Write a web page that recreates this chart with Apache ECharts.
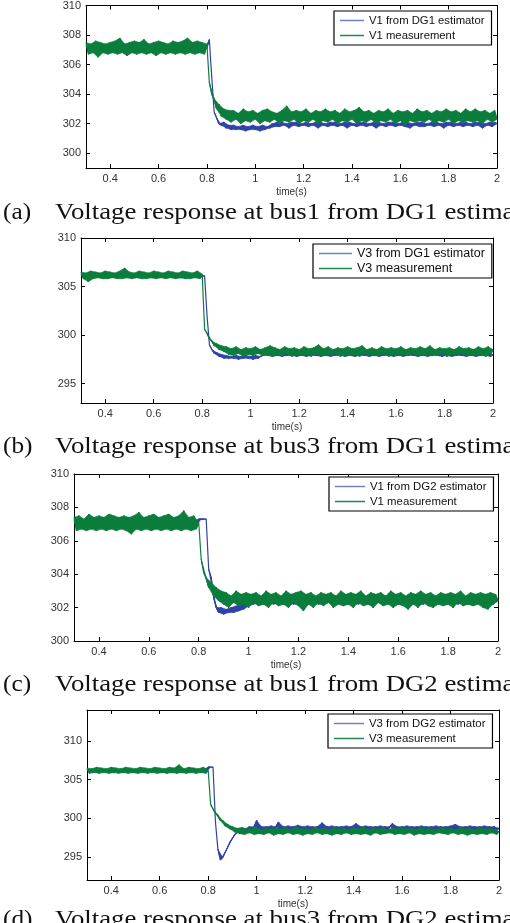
<!DOCTYPE html>
<html>
<head>
<meta charset="utf-8">
<script src="https://cdn.jsdelivr.net/npm/echarts@6/dist/echarts.min.js"></script>
<style>
html,body{margin:0;padding:0;background:#fff;}
#c{width:510px;height:923px;}
</style>
</head>
<body>
<div id="c"></div>
<script>
// time samples (s)
const T = [0.30,0.31,0.32,0.33,0.34,0.35,0.36,0.37,0.38,0.39,
0.40,0.41,0.42,0.43,0.44,0.45,0.46,0.47,0.48,0.49,
0.50,0.51,0.52,0.53,0.54,0.55,0.56,0.57,0.58,0.59,
0.60,0.61,0.62,0.63,0.64,0.65,0.66,0.67,0.68,0.69,
0.70,0.71,0.72,0.73,0.74,0.75,0.76,0.77,0.78,0.79,
0.80,0.81,0.82,0.83,0.84,0.85,0.86,0.87,0.88,0.89,
0.90,0.91,0.92,0.93,0.94,0.95,0.96,0.97,0.98,0.99,
1.00,1.01,1.02,1.03,1.04,1.05,1.06,1.07,1.08,1.09,
1.10,1.11,1.12,1.13,1.14,1.15,1.16,1.17,1.18,1.19,
1.20,1.21,1.22,1.23,1.24,1.25,1.26,1.27,1.28,1.29,
1.30,1.31,1.32,1.33,1.34,1.35,1.36,1.37,1.38,1.39,
1.40,1.41,1.42,1.43,1.44,1.45,1.46,1.47,1.48,1.49,
1.50,1.51,1.52,1.53,1.54,1.55,1.56,1.57,1.58,1.59,
1.60,1.61,1.62,1.63,1.64,1.65,1.66,1.67,1.68,1.69,
1.70,1.71,1.72,1.73,1.74,1.75,1.76,1.77,1.78,1.79,
1.80,1.81,1.82,1.83,1.84,1.85,1.86,1.87,1.88,1.89,
1.90,1.91,1.92,1.93,1.94,1.95,1.96,1.97,1.98,1.99,
2.00];

// (a) V1 from DG1 estimator / V1 measurement
const aEst = [307.3,306.9,307.2,307.0,307.3,306.9,307.2,306.9,307.3,307.0,
307.2,306.9,307.3,307.0,307.2,306.9,307.3,307.0,307.2,306.9,
307.3,307.0,307.2,306.9,307.3,307.0,307.2,306.9,307.3,307.0,
307.2,306.9,307.3,307.0,307.2,306.9,307.3,307.0,307.2,306.9,
307.3,307.0,307.2,306.9,307.3,307.0,307.2,306.9,307.3,307.0,
307.1,307.7,305.2,302.8,302.4,302.0,301.9,302.1,301.7,301.9,
301.6,301.9,301.6,301.8,301.6,301.9,301.5,301.8,301.6,301.9,
301.6,301.8,301.5,301.9,301.6,301.8,301.7,302.0,301.8,302.1,
301.8,302.1,301.9,302.0,301.7,302.1,301.9,302.1,301.8,302.0,
301.9,302.1,301.8,302.0,301.9,302.1,301.7,302.1,301.9,302.0,
301.8,302.1,301.9,302.1,301.8,302.0,301.9,302.1,301.7,302.1,
301.9,302.0,301.8,302.1,301.9,302.1,301.8,302.0,301.9,302.1,
301.7,302.1,301.9,302.0,301.8,302.1,301.9,302.1,301.8,302.0,
301.9,302.1,301.8,302.1,301.7,302.0,301.9,302.1,301.8,302.1,
301.8,302.0,301.9,302.1,301.8,302.1,301.9,302.0,301.7,302.1,
301.9,302.1,301.8,302.0,301.9,302.1,301.8,302.1,301.9,302.0,
301.8,302.1,301.9,302.1,301.7,302.0,301.9,302.1,301.8,302.1,
302.0];
const aMeas = [307.5,306.7,307.4,306.8,307.6,306.5,307.5,306.8,307.4,306.7,
307.5,306.8,307.6,306.7,307.8,306.8,307.4,306.6,307.5,306.8,
307.6,306.7,307.5,306.8,307.7,306.7,307.4,306.8,307.5,306.6,
307.6,306.8,307.5,306.7,307.4,306.8,307.6,306.7,307.5,306.8,
307.6,306.7,307.8,306.8,307.5,306.7,307.6,306.8,307.5,306.7,
307.4,304.8,304.0,303.7,303.0,303.3,302.5,303.0,302.3,302.9,
302.1,302.9,302.3,302.7,302.0,303.0,302.2,302.8,302.1,302.9,
302.3,302.7,302.0,302.9,302.2,303.0,302.1,302.8,302.3,302.7,
302.0,302.9,302.2,303.2,302.1,302.8,302.3,302.9,302.0,302.8,
302.2,303.0,302.1,302.7,302.3,302.9,302.0,302.8,302.2,303.0,
302.1,302.8,302.3,302.9,302.0,302.7,302.2,303.0,302.1,302.8,
302.3,302.9,302.0,303.1,302.2,302.8,302.1,302.9,302.3,302.7,
302.0,302.9,302.2,302.8,302.1,303.0,302.3,302.7,302.0,302.9,
302.2,302.8,301.9,302.9,302.2,302.7,302.1,303.0,302.2,302.8,
302.1,302.9,302.3,302.7,302.0,302.9,302.2,302.8,302.1,303.0,
302.3,302.8,302.0,302.9,302.2,302.7,302.1,303.0,302.2,302.8,
302.1,303.0,302.2,302.8,302.0,302.9,302.3,302.7,302.1,302.9,
302.3];

// (b) V3 from DG1 estimator / V3 measurement
const bEst = [306.3,305.9,306.2,306.0,306.3,305.9,306.2,306.0,306.3,305.9,
306.3,305.9,306.2,306.0,306.3,305.9,306.2,306.0,306.3,305.9,
306.3,305.9,306.2,306.0,306.3,305.9,306.2,306.0,306.3,305.9,
306.3,305.9,306.2,306.0,306.3,305.9,306.2,306.0,306.3,305.9,
306.3,305.9,306.2,306.0,306.3,305.9,306.2,306.0,306.3,305.9,
306.1,306.1,302.0,299.0,298.5,298.1,298.2,297.8,298.0,297.6,
297.9,297.6,297.8,297.6,297.9,297.5,297.8,297.6,297.9,297.6,
297.8,297.5,297.9,297.6,297.8,297.9,298.1,297.9,298.1,297.8,
298.1,297.9,298.1,297.8,298.1,297.9,298.1,297.9,298.1,297.8,
298.1,297.9,298.1,297.8,298.1,297.9,298.1,297.9,298.1,297.8,
298.1,297.9,298.1,297.8,298.1,297.9,298.1,297.9,298.1,297.8,
298.1,297.9,298.1,297.8,298.1,297.9,298.1,297.9,298.1,297.8,
298.1,297.9,298.1,297.8,298.1,297.9,298.1,297.9,298.1,297.8,
298.1,297.9,298.1,297.8,298.1,297.9,298.1,297.9,298.1,297.8,
298.1,297.9,298.1,297.8,298.1,297.9,298.1,297.9,298.1,297.8,
298.1,297.9,298.1,297.8,298.1,297.9,298.1,297.9,298.1,297.8,
298.1,297.9,298.1,297.8,298.1,297.9,298.1,297.9,298.1,297.8,
298.0];
const bMeas = [306.5,305.8,306.4,305.5,306.6,305.8,306.5,305.9,306.4,305.8,
306.6,305.8,306.5,305.9,306.4,305.8,306.6,305.8,306.9,305.9,
306.5,305.8,306.4,305.9,306.6,305.8,306.5,305.8,306.4,305.9,
306.6,305.8,306.5,305.9,306.4,305.8,306.6,305.9,306.5,305.8,
306.4,305.9,306.6,305.8,306.5,305.8,306.4,305.9,306.6,305.8,
306.3,300.6,300.2,299.6,299.4,298.9,299.1,298.5,298.9,298.3,
298.8,298.0,298.6,297.9,298.8,298.1,298.5,297.8,298.7,298.0,
298.6,297.9,298.8,298.1,298.5,297.9,298.7,298.0,298.9,297.8,
298.7,298.0,298.5,297.9,298.8,298.1,298.6,297.8,298.7,298.0,
298.5,297.9,298.8,298.0,298.6,297.8,298.7,298.1,299.0,297.9,
298.6,298.0,298.8,297.9,298.5,298.1,298.7,297.8,298.6,298.0,
298.8,297.9,298.6,298.0,298.7,297.8,298.9,298.1,298.5,297.9,
298.7,298.0,298.5,297.9,298.8,298.1,298.6,297.8,298.7,298.0,
298.6,297.9,298.8,298.0,298.5,297.9,298.7,298.1,298.6,297.8,
298.8,298.0,298.6,297.9,298.9,298.0,298.5,297.9,298.7,298.1,
298.6,297.8,298.7,298.0,298.5,297.9,298.8,298.1,298.6,297.9,
298.7,298.0,298.5,297.9,298.8,298.0,298.6,297.8,298.8,298.0,
298.5];

// (c) V1 from DG2 estimator / V1 measurement
const cEst = [307.2,306.9,307.3,306.9,307.2,307.0,307.3,306.9,307.2,306.9,
307.2,306.9,307.3,306.9,307.2,307.0,307.3,306.9,307.2,306.9,
307.2,306.9,307.3,306.9,307.2,307.0,307.3,306.9,307.2,306.9,
307.2,306.9,307.3,306.9,307.2,307.0,307.3,306.9,307.2,306.9,
307.2,306.9,307.3,306.9,307.2,307.0,307.3,306.9,307.2,306.9,
307.3,307.3,307.3,307.3,304.3,303.8,302.6,302.0,301.7,302.0,
301.6,301.9,301.7,302.0,301.7,302.1,301.8,302.2,301.9,302.3,
302.1,302.6,302.2,302.7,302.3,302.6,302.2,302.7,302.3,302.6,
302.2,302.7,302.3,302.6,302.2,302.7,302.3,302.6,302.2,302.7,
302.2,302.7,302.3,302.6,302.2,302.7,302.3,302.6,302.2,302.7,
302.2,302.7,302.3,302.6,302.2,302.7,302.3,302.6,302.2,302.7,
302.2,302.7,302.3,302.6,302.2,302.7,302.3,302.6,302.2,302.7,
302.2,302.7,302.3,302.6,302.2,302.7,302.3,302.6,302.2,302.7,
302.2,302.7,302.3,302.6,302.2,302.7,302.3,302.6,302.2,302.7,
302.2,302.7,302.3,302.6,302.2,302.7,302.3,302.6,302.2,302.7,
302.2,302.7,302.3,302.6,302.2,302.7,302.3,302.6,302.2,302.7,
302.2,302.7,302.3,302.6,302.2,302.7,302.3,302.6,302.2,302.7,
302.4];
const cMeas = [307.4,306.6,307.5,306.7,307.3,306.6,307.6,306.7,307.4,306.6,
307.5,306.7,307.4,306.6,307.6,306.7,307.5,306.6,307.4,306.7,
307.5,306.6,307.4,306.4,307.5,306.7,307.7,306.6,307.4,306.7,
307.5,306.6,307.6,306.7,307.4,306.6,307.5,306.7,307.6,306.6,
307.4,306.7,307.5,306.6,307.8,306.7,307.4,306.6,307.5,306.7,
307.1,304.9,304.1,303.8,303.2,303.5,302.7,303.2,302.4,303.0,
302.2,302.9,302.0,302.7,302.3,303.0,302.1,302.8,302.2,302.9,
302.0,302.8,302.3,302.9,302.1,302.7,302.2,303.0,302.0,302.8,
302.3,302.9,302.1,302.7,302.2,303.0,302.0,302.8,302.3,302.9,
302.1,303.0,301.8,302.8,302.2,302.9,302.0,302.7,302.3,302.9,
302.1,302.8,302.3,302.9,302.0,302.7,302.2,303.0,302.1,302.8,
302.2,302.9,302.0,302.8,302.3,303.0,302.1,302.7,302.2,302.9,
302.0,302.8,302.3,302.9,302.1,302.7,302.2,303.0,302.0,302.8,
302.2,302.9,302.1,302.7,301.9,302.9,302.2,302.8,302.0,303.0,
302.3,302.8,302.1,302.9,302.0,302.7,302.2,302.9,302.1,302.8,
302.2,302.9,302.0,302.8,302.3,303.0,302.1,302.7,302.2,302.9,
302.1,302.8,302.2,302.9,302.0,302.8,301.9,302.9,302.2,302.8,
302.4];

// (d) V3 from DG2 estimator / V3 measurement
const dEst = [306.3,305.9,306.2,306.0,306.3,305.9,306.2,306.0,306.3,305.9,
306.3,305.9,306.2,306.0,306.3,305.9,306.2,306.0,306.3,305.9,
306.3,305.9,306.2,306.0,306.3,305.9,306.2,306.0,306.3,305.9,
306.3,305.9,306.2,306.0,306.3,305.9,306.2,306.0,306.3,305.9,
306.3,305.9,306.2,306.0,306.3,305.9,306.2,306.0,306.3,305.9,
306.6,306.6,306.6,299.5,296.0,294.6,294.9,295.6,296.2,296.9,
297.4,297.9,298.2,298.4,298.3,298.6,298.4,298.9,298.4,298.9,
299.7,298.4,298.9,298.5,298.9,298.4,299.0,298.5,298.9,299.5,
298.4,298.9,298.5,299.0,298.4,298.9,298.5,299.1,298.4,298.9,
298.5,299.0,298.4,298.9,298.5,298.9,298.4,299.4,298.5,298.9,
298.4,299.0,298.5,298.9,298.4,298.9,298.5,299.0,298.4,298.9,
298.5,299.3,298.4,298.9,298.5,299.0,298.4,298.9,298.5,298.9,
298.4,299.0,298.5,298.9,298.4,298.9,299.3,298.5,298.9,298.4,
298.9,298.5,299.0,298.4,298.9,298.5,298.9,298.4,299.0,298.5,
298.9,298.4,298.9,298.5,299.0,298.4,298.9,298.5,298.9,298.4,
299.0,298.5,299.2,298.4,298.9,298.5,298.9,298.4,299.0,298.5,
298.9,298.4,298.9,298.5,299.0,298.4,298.9,298.5,298.9,298.4,
298.7];
const dMeas = [306.5,305.8,306.4,305.9,306.6,305.8,306.5,305.9,306.4,305.8,
306.6,305.9,306.5,305.8,306.4,305.9,306.6,305.8,306.5,305.9,
306.4,305.8,306.6,305.9,306.5,305.8,306.4,305.9,306.6,305.8,
306.5,305.9,306.4,305.8,306.6,305.9,306.5,305.8,306.9,305.9,
306.4,305.8,306.6,305.9,306.5,305.8,306.4,305.9,306.6,305.8,
306.2,301.8,301.2,300.6,300.4,299.7,299.7,299.0,299.2,298.6,
298.9,298.2,298.7,298.0,298.8,297.9,298.6,298.1,298.7,297.9,
298.8,298.0,298.5,297.9,298.7,298.1,298.6,297.8,298.8,298.0,
298.6,297.9,298.8,298.1,298.5,297.9,298.9,298.0,298.6,297.8,
298.7,298.0,298.5,297.9,298.8,298.1,298.6,297.9,298.7,298.0,
298.5,297.8,298.8,298.0,298.6,297.9,298.7,298.1,298.5,297.9,
298.8,298.0,298.6,297.9,298.9,298.0,298.5,297.8,298.7,298.1,
298.6,297.9,298.8,298.0,298.5,298.1,298.7,297.9,298.6,298.0,
298.8,297.9,298.6,298.1,298.7,297.8,298.5,298.0,298.8,297.9,
298.6,298.0,298.7,297.9,298.5,298.1,298.8,298.0,298.6,297.9,
298.7,298.1,298.5,297.9,298.8,298.0,298.6,297.8,298.7,298.0,
298.5,297.9,298.8,298.0,298.6,297.9,298.7,298.1,298.5,297.9,
298.3];

// tick labels
const xTicks = [0.4,0.6,0.8,1,1.2,1.4,1.6,1.8,2];
const yTicksA = [300,302,304,306,308,310];
const yTicksB = [295,300,305,310];
const yTicksC = [300,302,304,306,308,310];
const yTicksD = [295,300,305,310];

const estNames = ['V1 from DG1 estimator','V3 from DG1 estimator','V1 from DG2 estimator','V3 from DG2 estimator'];
const measNames = ['V1 measurement','V3 measurement','V1 measurement','V3 measurement'];
const captions = ['(a)','(b)','(c)','(d)'];
const captionText = ['Voltage response at bus1 from DG1 estimator','Voltage response at bus3 from DG1 estimator','Voltage response at bus1 from DG2 estimator','Voltage response at bus3 from DG2 estimator'];

const estData = [aEst,bEst,cEst,dEst];
const measData = [aMeas,bMeas,cMeas,dMeas];
const yTicks = [yTicksA,yTicksB,yTicksC,yTicksD];

// layout
const grids = [
  {left:86, top:5, width:411, height:163, ymin:299, ymax:310},
  {left:81, top:238, width:412, height:165, ymin:293, ymax:310},
  {left:74, top:474, width:424, height:167, ymin:300, ymax:310},
  {left:87, top:710, width:412, height:170, ymin:292, ymax:314}
];
const legendPos = [
  {left:334, top:11, iw:24, fs:11.3},
  {left:313, top:244, iw:33, fs:12.5},
  {left:329, top:477, iw:30, fs:11.4},
  {left:328, top:714, iw:30, fs:11.4}
];
const captionY = [213, 447, 685, 920];

const BLUE = '#2F43A6';
const GREEN = '#0B7D3C';
const LEG_BLUE = '#6F80C8';
const LEG_GREEN = '#1E8A4C';
const SANS = '"Liberation Sans", Arial, Helvetica, sans-serif';
const SERIF = '23px "Liberation Serif", "Times New Roman", serif';
const NOISE_MAX = 1.5; // consecutive samples closer than this are filled as a noise band

function bandSeries(k, arr, color, z) {
  const triples = [];
  for (let i = 0; i < T.length - 2; i++) triples.push([T[i], arr[i], T[i+1], arr[i+1], T[i+2], arr[i+2]]);
  return {
    type:'custom', xAxisIndex:2*k, yAxisIndex:2*k, silent:true, animation:false, z:z,
    clip:true,
    data:triples,
    encode:{x:[0,2,4], y:[1,3,5]},
    renderItem:function(params, api){
      const v1 = api.value(1), v2 = api.value(3), v3 = api.value(5);
      if (Math.abs(v1 - v2) > NOISE_MAX || Math.abs(v2 - v3) > NOISE_MAX) return {type:'group', children:[]};
      const p1 = api.coord([api.value(0), v1]);
      const p2 = api.coord([api.value(2), v2]);
      const p3 = api.coord([api.value(4), v3]);
      return {
        type:'polygon',
        shape:{points:[p1, p2, p3]},
        style:{fill:color, stroke:color, lineWidth:0.6}
      };
    }
  };
}

const xAxes = [], yAxes = [], series = [], legends = [], graphics = [];
grids.forEach((g, k) => {
  const common = {
    gridIndex:k, type:'value', min:0.3, max:2,
    axisLine:{show:true, onZero:false, lineStyle:{color:'#000', width:1}},
    splitLine:{show:false}
  };
  xAxes.push(Object.assign({}, common, {
    position:'bottom',
    axisTick:{show:true, inside:true, length:4, customValues:xTicks, lineStyle:{color:'#000'}},
    axisLabel:{show:true, customValues:xTicks, fontSize:11, color:'#333', margin:5, fontFamily:SANS},
    name:'time(s)', nameLocation:'middle', nameGap:19,
    nameTextStyle:{fontSize:10, color:'#333', fontFamily:SANS}
  }));
  xAxes.push(Object.assign({}, common, {
    position:'top',
    axisTick:{show:true, inside:true, length:4, customValues:xTicks, lineStyle:{color:'#000'}},
    axisLabel:{show:false}
  }));
  const ycommon = {
    gridIndex:k, type:'value', min:g.ymin, max:g.ymax,
    axisLine:{show:true, onZero:false, lineStyle:{color:'#000', width:1}},
    splitLine:{show:false}
  };
  yAxes.push(Object.assign({}, ycommon, {
    position:'left',
    axisTick:{show:true, inside:true, length:4, customValues:yTicks[k], lineStyle:{color:'#000'}},
    axisLabel:{show:true, customValues:yTicks[k], fontSize:11, color:'#333', margin:5, fontFamily:SANS}
  }));
  yAxes.push(Object.assign({}, ycommon, {
    position:'right',
    axisTick:{show:true, inside:true, length:4, customValues:yTicks[k], lineStyle:{color:'#000'}},
    axisLabel:{show:false}
  }));
  series.push(bandSeries(k, estData[k], BLUE, 2));
  series.push({
    type:'line', name:estNames[k], xAxisIndex:2*k, yAxisIndex:2*k,
    data:T.map((t,i)=>[t, estData[k][i]]),
    symbol:'none', showSymbol:false, animation:false, silent:true,
    lineStyle:{color:BLUE, width:1.2}, itemStyle:{color:BLUE}, z:2
  });
  series.push(bandSeries(k, measData[k], GREEN, 3));
  series.push({
    type:'line', name:measNames[k], xAxisIndex:2*k, yAxisIndex:2*k,
    data:T.map((t,i)=>[t, measData[k][i]]),
    symbol:'none', showSymbol:false, animation:false, silent:true,
    lineStyle:{color:GREEN, width:1.2}, itemStyle:{color:GREEN}, z:3
  });
  const lp = legendPos[k];
  legends.push({
    left:lp.left, top:lp.top, orient:'vertical',
    data:[
      {name:estNames[k], icon:'rect', itemStyle:{color:LEG_BLUE}},
      {name:measNames[k], icon:'rect', itemStyle:{color:LEG_GREEN}}
    ],
    itemWidth:lp.iw, itemHeight:1.5, itemGap:2,
    padding:[3, 7, 3, 6],
    borderColor:'#000', borderWidth:1.2, backgroundColor:'#fff',
    selectedMode:false, z:10,
    textStyle:{fontSize:lp.fs, color:'#111', fontFamily:SANS, lineHeight:13}
  });
  graphics.push({
    type:'text', x:3, y:captionY[k],
    style:{text:captions[k], font:SERIF, fill:'#111', verticalAlign:'middle'},
    scaleX:1.1
  });
  graphics.push({
    type:'text', x:55, y:captionY[k],
    style:{text:captionText[k], font:SERIF, fill:'#111', verticalAlign:'middle'},
    scaleX:1.165
  });
});

const chart = echarts.init(document.getElementById('c'), null, {renderer:'canvas'});
chart.setOption({
  backgroundColor:'#fff',
  animation:false,
  grid: grids.map(g => ({left:g.left, top:g.top, width:g.width, height:g.height, containLabel:false})),
  xAxis: xAxes,
  yAxis: yAxes,
  legend: legends,
  series: series,
  graphic: graphics
});
</script>
</body>
</html>
